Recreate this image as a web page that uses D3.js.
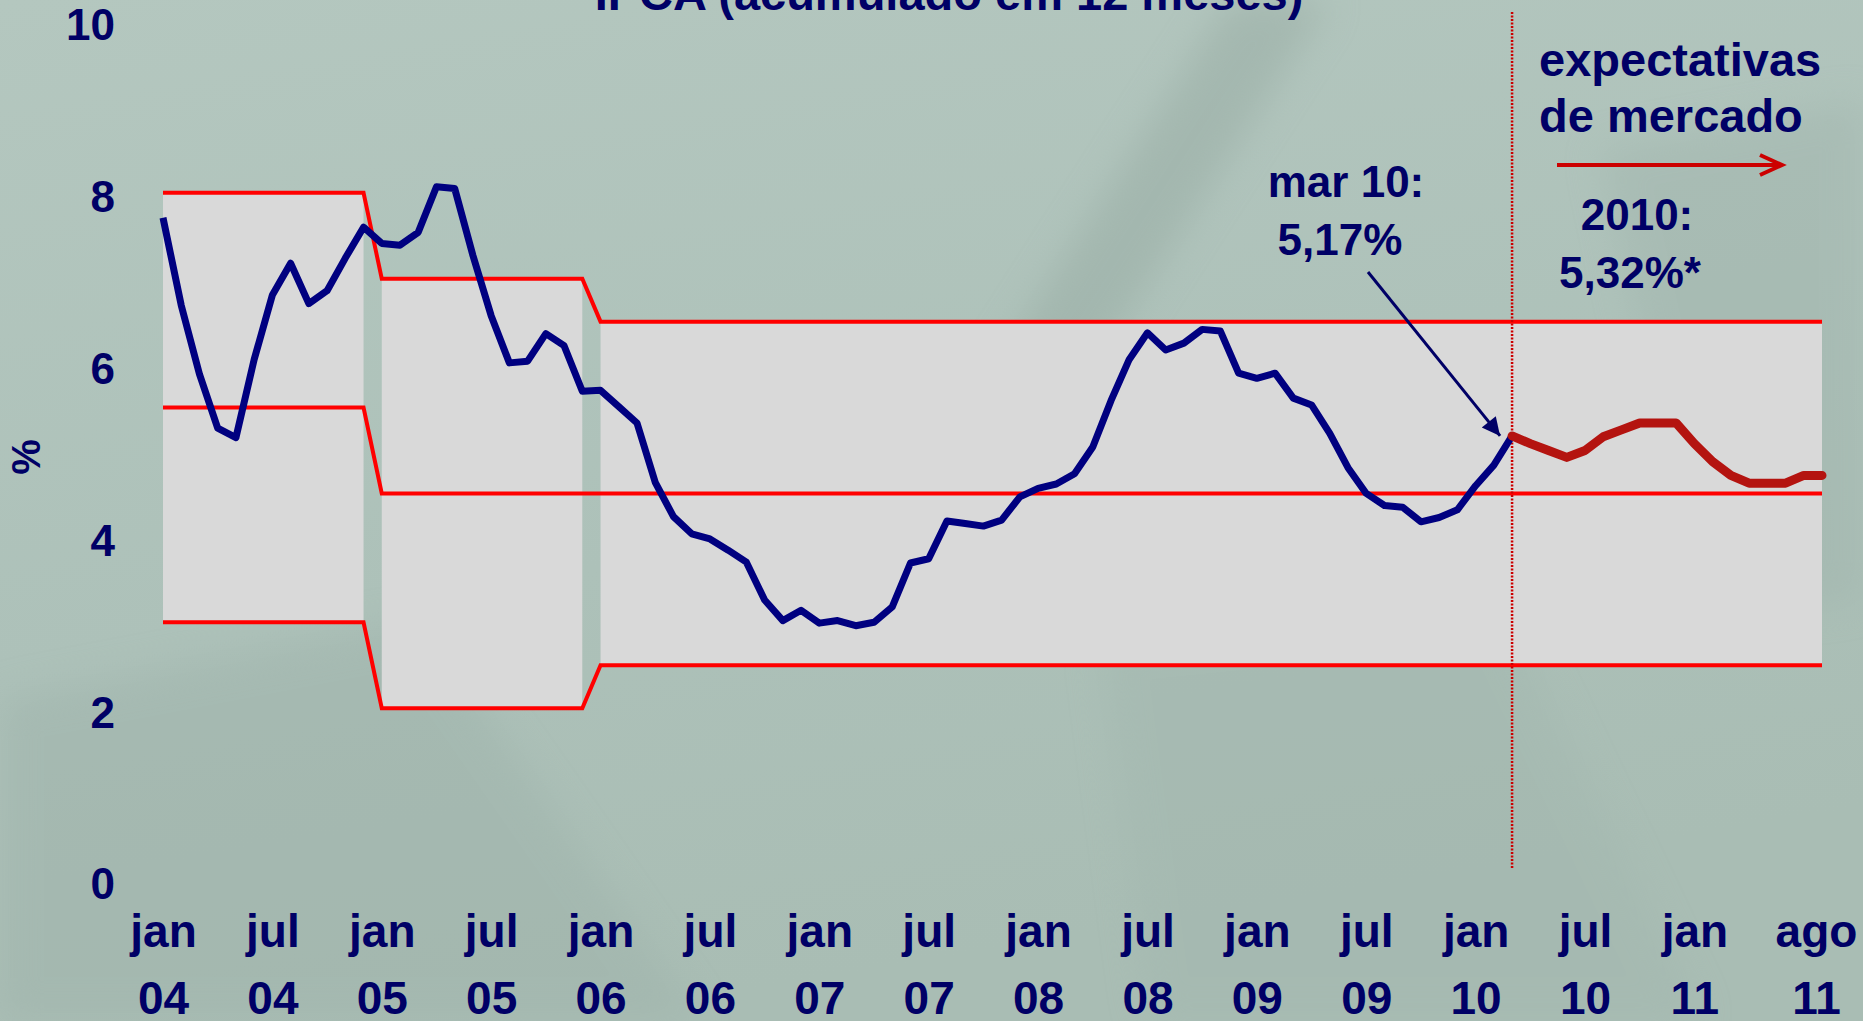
<!DOCTYPE html>
<html>
<head>
<meta charset="utf-8">
<script src="https://cdn.jsdelivr.net/npm/d3@7"></script>
<style>
  html, body { margin: 0; padding: 0; overflow: hidden; background: #b1c4bc; }
  svg text { font-family: "Liberation Sans", Arial, sans-serif; font-weight: bold; fill: #000066; }
</style>
</head>
<body>
<svg id="chart"></svg>
<script>
// IPCA acumulado em 12 meses, jan/04 .. mar/10
const ipca = [
  7.71, 6.69, 5.89, 5.26, 5.15, 6.06, 6.81, 7.18, 6.71, 6.86, 7.24, 7.60,
  7.41, 7.39, 7.54, 8.07, 8.05, 7.27, 6.57, 6.02, 6.04, 6.36, 6.22, 5.69,
  5.70, 5.51, 5.32, 4.63, 4.23, 4.03, 3.97, 3.84, 3.70, 3.26, 3.02, 3.14,
  2.99, 3.02, 2.96, 3.00, 3.18, 3.69, 3.74, 4.18, 4.15, 4.12, 4.19, 4.46,
  4.56, 4.61, 4.73, 5.04, 5.58, 6.06, 6.37, 6.17, 6.25, 6.41, 6.39, 5.90,
  5.84, 5.90, 5.61, 5.53, 5.20, 4.80, 4.50, 4.36, 4.34, 4.17, 4.22, 4.31,
  4.59, 4.83, 5.17
];
// expectativas de mercado, mar/10 .. ago/11
const expectativa = [5.17, 5.08, 5.00, 4.92, 5.00, 5.16, 5.24, 5.32, 5.32, 5.32,
  5.08, 4.87, 4.71, 4.62, 4.62, 4.62, 4.71, 4.71];

// metas de inflação por ano
const metaAnos = [2004, 2005, 2006, 2007, 2008, 2009, 2010, 2011];
const metaCentro = [5.5, 4.5, 4.5, 4.5, 4.5, 4.5, 4.5, 4.5];
const metaSuperior = [8.0, 7.0, 6.5, 6.5, 6.5, 6.5, 6.5, 6.5];
const metaInferior = [3.0, 2.0, 2.5, 2.5, 2.5, 2.5, 2.5, 2.5];

const tickMeses = ["2004-01", "2004-07", "2005-01", "2005-07", "2006-01", "2006-07", "2007-01", "2007-07",
  "2008-01", "2008-07", "2009-01", "2009-07", "2010-01", "2010-07", "2011-01", "2011-08"];
const tickTopo = ["jan", "jul", "jan", "jul", "jan", "jul", "jan", "jul",
  "jan", "jul", "jan", "jul", "jan", "jul", "jan", "ago"];
const tickBase = ["04", "04", "05", "05", "06", "06", "07", "07",
  "08", "08", "09", "09", "10", "10", "11", "11"];
const yTicks = [0, 2, 4, 6, 8, 10];

const width = 1863, height = 1021;
const fmt = d3.timeFormat("%Y-%m");
const meses = d3.timeMonth.range(new Date(2004, 0, 1), new Date(2011, 8, 1)).map(fmt);

const svg = d3.select("#chart").attr("width", width).attr("height", height);

// fundo
const defs = svg.append("defs");
const bg = defs.append("linearGradient").attr("id", "bg").attr("x1", 0).attr("y1", 0).attr("x2", 0.3).attr("y2", 1);
bg.append("stop").attr("offset", 0).attr("stop-color", "#b4c7bf");
bg.append("stop").attr("offset", 0.6).attr("stop-color", "#adc1b9");
bg.append("stop").attr("offset", 1).attr("stop-color", "#a9bdb4");
defs.append("filter").attr("id", "blur").append("feGaussianBlur").attr("stdDeviation", 18);

svg.append("rect").attr("width", width).attr("height", height).attr("fill", "url(#bg)");
const tex = svg.append("g").attr("filter", "url(#blur)").attr("opacity", 0.5);
tex.append("path").attr("d", "M1230,0 L1330,0 L1060,420 L960,420 Z").attr("fill", "#97aba3");
tex.append("path").attr("d", "M0,700 L420,620 L700,1021 L0,1021 Z").attr("fill", "#9fb3ab");
tex.append("path").attr("d", "M1100,640 L1500,600 L1700,1021 L1150,1021 Z").attr("fill", "#a3b7af");
tex.append("path").attr("d", "M1600,150 L1863,100 L1863,600 L1700,620 Z").attr("fill", "#a2b6ae");

const x = d3.scalePoint().domain(meses).range([163, 1822]);
const y = d3.scaleLinear().domain([0, 10]).range([880, 21]);

// série mensal das metas
const metas = meses.map(m => {
  const i = metaAnos.indexOf(+m.slice(0, 4));
  return { mes: m, sup: metaSuperior[i], cen: metaCentro[i], inf: metaInferior[i] };
});

// faixas cinzas: agrupar meses consecutivos com a mesma meta
const faixas = [];
metas.forEach(d => {
  const last = faixas[faixas.length - 1];
  if (last && last[0].sup === d.sup && last[0].inf === d.inf) last.push(d);
  else faixas.push([d]);
});

const area = d3.area().x(d => x(d.mes)).y0(d => y(d.inf)).y1(d => y(d.sup));
svg.append("g").selectAll("path")
  .data(faixas)
  .join("path")
  .attr("d", area)
  .attr("fill", "#d9d9d9");

// linhas das metas
["sup", "cen", "inf"].forEach(k => {
  svg.append("path")
    .datum(metas)
    .attr("fill", "none")
    .attr("stroke", "#ff0000")
    .attr("stroke-width", 4)
    .attr("d", d3.line().x(d => x(d.mes)).y(d => y(d[k])));
});

// linha vertical (início das expectativas)
const xMar = x("2010-03");
svg.append("line")
  .attr("x1", xMar).attr("x2", xMar)
  .attr("y1", 12).attr("y2", 868)
  .attr("stroke", "#cc0000")
  .attr("stroke-width", 2.5)
  .attr("stroke-dasharray", "2,1.5");

// IPCA observado
svg.append("path")
  .datum(ipca)
  .attr("fill", "none")
  .attr("stroke", "#000080")
  .attr("stroke-width", 7)
  .attr("stroke-linejoin", "round")
  .attr("d", d3.line().x((d, i) => x(meses[i])).y(d => y(d)));

// expectativas
const i0 = meses.indexOf("2010-03");
svg.append("path")
  .datum(expectativa)
  .attr("fill", "none")
  .attr("stroke", "#b41410")
  .attr("stroke-width", 9)
  .attr("stroke-linejoin", "round")
  .attr("stroke-linecap", "round")
  .attr("d", d3.line().x((d, i) => x(meses[i0 + i])).y(d => y(d)));

// eixo Y
const yAxis = svg.append("g")
  .attr("transform", `translate(${x(meses[0])},0)`)
  .call(d3.axisLeft(y).tickValues(yTicks).tickSize(0).tickPadding(48));
yAxis.select(".domain").remove();
yAxis.selectAll("text")
  .attr("dy", "0.43em")
  .style("font-size", "44px")
  .style("font-family", null)
  .attr("fill", null);

svg.append("text")
  .attr("transform", "translate(40,457) rotate(-90)")
  .attr("text-anchor", "middle")
  .style("font-size", "40px")
  .text("%");

// eixo X
const xAxis = svg.append("g")
  .attr("transform", `translate(0,${y(0)})`)
  .call(d3.axisBottom(x).tickValues(tickMeses).tickSize(0).tickFormat(""));
xAxis.select(".domain").remove();
xAxis.selectAll("text").each(function (d) {
  const i = tickMeses.indexOf(d);
  const dx = i === tickMeses.length - 1 ? -6 : 0;
  const t = d3.select(this).attr("y", null).attr("dy", null)
    .style("font-size", "46px").style("font-family", null).attr("fill", null);
  t.append("tspan").attr("x", dx).attr("y", 67).text(tickTopo[i]);
  t.append("tspan").attr("x", dx).attr("y", 134).text(tickBase[i]);
});

// título (cortado no topo)
svg.append("text")
  .attr("x", 949).attr("y", 10)
  .attr("text-anchor", "middle")
  .style("font-size", "47px")
  .text("IPCA (acumulado em 12 meses)");

// anotação mar 10
svg.append("text").attr("x", 1346).attr("y", 197).attr("text-anchor", "middle")
  .style("font-size", "44px").text("mar 10:");
svg.append("text").attr("x", 1340).attr("y", 255).attr("text-anchor", "middle")
  .style("font-size", "44px").text("5,17%");

defs.append("marker")
  .attr("id", "seta")
  .attr("viewBox", "0 0 10 10")
  .attr("refX", 10).attr("refY", 5)
  .attr("markerWidth", 7).attr("markerHeight", 6)
  .attr("markerUnits", "strokeWidth")
  .attr("orient", "auto")
  .append("path").attr("d", "M0,0 L10,5 L0,10 Z").attr("fill", "#000066");

svg.append("line")
  .attr("x1", 1368).attr("y1", 272)
  .attr("x2", xMar - 12).attr("y2", y(5.17))
  .attr("stroke", "#000066")
  .attr("stroke-width", 3)
  .attr("marker-end", "url(#seta)");

// expectativas de mercado
svg.append("text").attr("x", 1539).attr("y", 76).style("font-size", "47px").text("expectativas");
svg.append("text").attr("x", 1539).attr("y", 132).style("font-size", "47px").text("de mercado");

svg.append("line")
  .attr("x1", 1557).attr("y1", 165).attr("x2", 1781).attr("y2", 165)
  .attr("stroke", "#cc0000").attr("stroke-width", 4);
svg.append("path")
  .attr("d", "M1760,155 L1782,165 L1760,175")
  .attr("fill", "none").attr("stroke", "#cc0000").attr("stroke-width", 4);

svg.append("text").attr("x", 1637).attr("y", 230).attr("text-anchor", "middle")
  .style("font-size", "44px").text("2010:");
svg.append("text").attr("x", 1630).attr("y", 288).attr("text-anchor", "middle")
  .style("font-size", "44px").text("5,32%*");
</script>
</body>
</html>
